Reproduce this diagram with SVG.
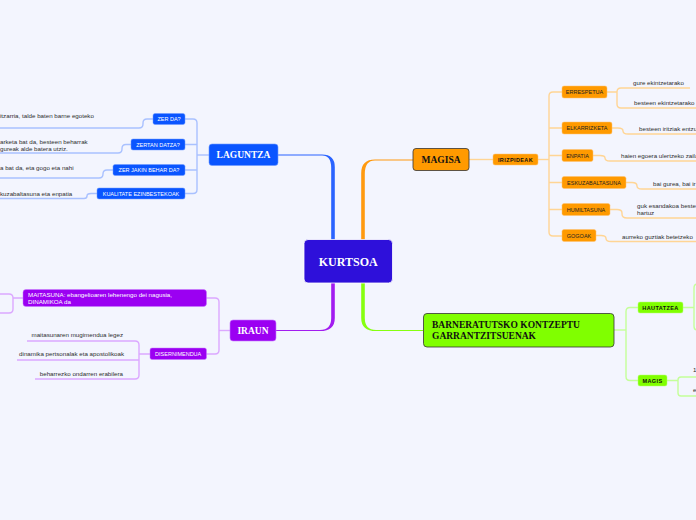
<svg xmlns="http://www.w3.org/2000/svg" width="696" height="520" viewBox="0 0 696 520">
<style>
.leaf{font-family:"Liberation Sans",Arial,sans-serif;font-size:6.2px;fill:#2e2e2e}
.sub{font-family:"Liberation Sans",Arial,sans-serif;font-size:5.5px;text-anchor:middle}
.subw{fill:#fff}
.subd{fill:#222}
.subb{font-weight:bold;letter-spacing:0.4px;fill:#111}
.main{font-family:"Liberation Serif","Times New Roman",serif;font-weight:bold;font-size:9.5px}
.cb{fill:none;stroke:#a9c1ff;stroke-width:1.4}
.co{fill:none;stroke:#ffd595;stroke-width:1.4}
.cp{fill:none;stroke:#dca8ff;stroke-width:1.4}
.cg{fill:none;stroke:#c4ff99;stroke-width:1.4}
</style>
<rect width="696" height="520" fill="#f3f5fe"/>

<g id="connectors">
  <!-- main branches -->
  <path d="M278,154.4 L322,154.4 Q334.8,154.4 334.8,167 L334.8,240 L331.2,240 L331.2,168 Q331.2,155.6 322,155.6 L278,155.6 Z" fill="#2a63ff"/>
  <path d="M413,159.4 L375,159.4 Q361.2,159.4 361.2,173 L361.2,240 L364.8,240 L364.8,174 Q364.8,160.6 375,160.6 L413,160.6 Z" fill="#ff9a10"/>
  <path d="M276,329.9 L320,329.9 Q331.2,329.9 331.2,318 L331.2,283 L334.8,283 L334.8,318 Q334.8,331.1 320,331.1 L276,331.1 Z" fill="#a21cf0"/>
  <path d="M423,329.9 L376,329.9 Q364.8,329.9 364.8,318 L364.8,283 L361.2,283 L361.2,318 Q361.2,331.1 376,331.1 L423,331.1 Z" fill="#86ff10"/>

  <!-- LAGUNTZA -->
  <path class="cb" d="M209,155 L197,155"/>
  <path class="cb" d="M185,119 L193,119 Q197,119 197,123 L197,189.5 Q197,193.5 193,193.5 L185,193.5"/>
  <path class="cb" d="M185,144.5 L197,144.5 M185,170 L197,170"/>
  <path class="cb" d="M153,119 L147,119 Q143,119 143,123 L143,124 Q143,128 139,128 L0,128"/>
  <path class="cb" d="M131,144.5 L126,144.5 Q122,144.5 122,148.5 L122,149 Q122,153 118,153 L0,153"/>
  <path class="cb" d="M113,170 L107,170 Q103,170 103,174 Q103,178 99,178 L0,178"/>
  <path class="cb" d="M97,193.5 L91,193.5 Q87,193.5 87,196 Q87,198.5 84,198.5 L0,198.5"/>

  <!-- MAGISA -->
  <path class="co" d="M469,159.5 L493,159.5"/>
  <path class="co" d="M538,159.5 L549,159.5"/>
  <path class="co" d="M562,92 L553,92 Q549,92 549,96 L549,232 Q549,236 553,236 L562,236"/>
  <path class="co" d="M549,128 L562,128 M549,155.5 L562,155.5 M549,182.5 L562,182.5 M549,209.5 L562,209.5"/>
  <path class="co" d="M607,92 L617,92 M690,88 L621,88 Q617,88 617,92 L617,104 Q617,108 621,108 L696,108"/>
  <path class="co" d="M612,128 L618,128 Q623,128 623,131 Q623,134 628,134 L696,134"/>
  <path class="co" d="M593,155.5 L600,155.5 Q605,155.5 605,158 Q605,161 610,161 L696,161"/>
  <path class="co" d="M626,182.5 L632,182.5 Q637,182.5 637,186 Q637,189 642,189 L696,189"/>
  <path class="co" d="M610,209.5 L617,209.5 Q622,209.5 622,213 L622,214 Q622,218 627,218 L696,218"/>
  <path class="co" d="M596,235.5 L601,235.5 Q606,235.5 606,238.5 Q606,241.5 611,241.5 L696,241.5"/>

  <!-- IRAUN -->
  <path class="cp" d="M230,330.5 L219,330.5"/>
  <path class="cp" d="M206,298 L215,298 Q219,298 219,302 L219,350 Q219,354 215,354 L206,354"/>
  <path class="cp" d="M23,298 L13,298 M0,294 L9,294 Q13,294 13,298 L13,309 Q13,313 9,313 L0,313"/>
  <path class="cp" d="M150,354 L139,354 M27,341 L135,341 Q139,341 139,345 L139,375 Q139,379 135,379 L35,379 M17,360 L139,360"/>

  <!-- BARNERATUTSKO -->
  <path class="cg" d="M614,330 L626,330"/>
  <path class="cg" d="M638,307.5 L630,307.5 Q626,307.5 626,311.5 L626,376.5 Q626,380.5 630,380.5 L638,380.5"/>
  <path class="cg" d="M683,307.5 L694,307.5 M697,284 Q694,284 694,288 L694,326 Q694,330 697,330"/>
  <path class="cg" d="M667,380.5 L678,380.5 M696,377 L681,377 Q678,377 678,380 L678,393 Q678,396 681,396 L696,396"/>
</g>

<g id="kurtsoa">
  <rect x="304" y="239.5" width="88.5" height="43.5" rx="4" fill="#2e10da" stroke="#ffffff" stroke-width="0.8"/>
  <text x="348.2" y="265.5" class="main" fill="#fff" text-anchor="middle" style="font-size:12px">KURTSOA</text>
</g>

<g id="laguntza">
  <rect x="209" y="144" width="69" height="21.5" rx="3" fill="#0a55ff" stroke="#6f9bff" stroke-width="0.6"/>
  <text x="243.5" y="158.3" class="main" fill="#fff" text-anchor="middle">LAGUNTZA</text>
</g>
<g id="zer-da">
  <rect x="153" y="113.5" width="32" height="11" rx="2" fill="#0a55ff" stroke="#6f9bff" stroke-width="0.5"/>
  <text x="169" y="121" class="sub subw">ZER DA?</text>
</g>
<g id="zertan-datza">
  <rect x="131" y="139" width="54" height="11" rx="2" fill="#0a55ff" stroke="#6f9bff" stroke-width="0.5"/>
  <text x="158" y="146.5" class="sub subw">ZERTAN DATZA?</text>
</g>
<g id="zer-jakin">
  <rect x="113" y="164.5" width="72" height="11" rx="2" fill="#0a55ff" stroke="#6f9bff" stroke-width="0.5"/>
  <text x="149" y="172" class="sub subw">ZER JAKIN BEHAR DA?</text>
</g>
<g id="kualitate">
  <rect x="97" y="188" width="88" height="11" rx="2" fill="#0a55ff" stroke="#6f9bff" stroke-width="0.5"/>
  <text x="141" y="195.5" class="sub subw">KUALITATE EZINBESTEKOAK</text>
</g>
<g id="laguntza-leaves">
  <text x="0" y="118" class="leaf">itzarria, talde baten barne egoteko</text>
  <text x="0" y="144" class="leaf">arketa bat da, besteen beharrak</text>
  <text x="0" y="150.7" class="leaf">gureak alde batera utziz.</text>
  <text x="0" y="170" class="leaf">a bat da, eta gogo eta nahi</text>
  <text x="0" y="196" class="leaf">kuzabaltasuna eta enpatia</text>
</g>

<g id="magisa">
  <rect x="413" y="148.5" width="56" height="22" rx="3" fill="#ff9a00" stroke="#333" stroke-width="0.8"/>
  <text x="441" y="163" class="main" fill="#111" text-anchor="middle">MAGISA</text>
</g>
<g id="irizpideak">
  <rect x="493" y="154" width="45" height="11" rx="2" fill="#ff9a00" stroke="#ffc070" stroke-width="0.5"/>
  <text x="515.5" y="161.6" class="sub subb">IRIZPIDEAK</text>
</g>
<g id="errespetua">
  <rect x="562" y="86" width="45" height="12" rx="2" fill="#ff9a00" stroke="#ffc070" stroke-width="0.5"/>
  <text x="584.5" y="94" class="sub subd">ERRESPETUA</text>
</g>
<g id="elkarrizketa">
  <rect x="562" y="122" width="50" height="12" rx="2" fill="#ff9a00" stroke="#ffc070" stroke-width="0.5"/>
  <text x="587" y="130" class="sub subd">ELKARRIZKETA</text>
</g>
<g id="enpatia">
  <rect x="562" y="149.5" width="31" height="12" rx="2" fill="#ff9a00" stroke="#ffc070" stroke-width="0.5"/>
  <text x="577.5" y="157.5" class="sub subd">ENPATIA</text>
</g>
<g id="eskuzabaltasuna">
  <rect x="562" y="176.5" width="64" height="12" rx="2" fill="#ff9a00" stroke="#ffc070" stroke-width="0.5"/>
  <text x="594" y="184.5" class="sub subd">ESKUZABALTASUNA</text>
</g>
<g id="humiltasuna">
  <rect x="562" y="203.5" width="48" height="12" rx="2" fill="#ff9a00" stroke="#ffc070" stroke-width="0.5"/>
  <text x="586" y="211.5" class="sub subd">HUMILTASUNA</text>
</g>
<g id="gogoak">
  <rect x="562" y="229.5" width="34" height="12" rx="2" fill="#ff9a00" stroke="#ffc070" stroke-width="0.5"/>
  <text x="579" y="237.5" class="sub subd">GOGOAK</text>
</g>
<g id="magisa-leaves">
  <text x="633" y="85" class="leaf">gure ekintzetarako</text>
  <text x="634" y="104.5" class="leaf">besteen ekintzetarako</text>
  <text x="639" y="131" class="leaf">besteen iritziak entzu</text>
  <text x="621" y="158" class="leaf">haien egoera ulertzeko zaila</text>
  <text x="653" y="186" class="leaf">bai gurea, bai ir</text>
  <text x="637" y="208" class="leaf">guk esandakoa beste</text>
  <text x="637" y="215" class="leaf">hartuz</text>
  <text x="622" y="238.5" class="leaf">aurreko guztiak betetzeko</text>
</g>

<g id="iraun">
  <rect x="230" y="320" width="46" height="21" rx="3" fill="#9b00f2" stroke="#c77bff" stroke-width="0.6"/>
  <text x="253" y="334" class="main" fill="#fff" text-anchor="middle">IRAUN</text>
</g>
<g id="maitasuna">
  <rect x="23" y="289.5" width="183.5" height="17" rx="3" fill="#9b00f2" stroke="#c77bff" stroke-width="0.5"/>
  <text x="28" y="297" class="leaf" style="fill:#fff">MAITASUNA:  ebangelioaren lehenengo dei nagusia,</text>
  <text x="28" y="304.2" class="leaf" style="fill:#fff">DINAMIKOA da</text>
</g>
<g id="disernimendua">
  <rect x="150" y="348" width="56.5" height="11.5" rx="2" fill="#9b00f2" stroke="#c77bff" stroke-width="0.5"/>
  <text x="178.2" y="355.8" class="sub subw">DISERNIMENDUA</text>
</g>
<g id="iraun-leaves">
  <text x="123" y="336.5" class="leaf" text-anchor="end">maitasunaren mugimendua legez</text>
  <text x="124" y="355.8" class="leaf" text-anchor="end">dinamika pertsonalak eta apostolikoak</text>
  <text x="123" y="376" class="leaf" text-anchor="end">beharrezko ondarren erabilera</text>
</g>

<g id="barneratutsko">
  <rect x="423.5" y="313.5" width="190.5" height="33.5" rx="3.5" fill="#80ff00" stroke="#333" stroke-width="0.8"/>
  <text x="432" y="327.5" class="main" fill="#111">BARNERATUTSKO KONTZEPTU</text>
  <text x="432" y="338.5" class="main" fill="#111">GARRANTZITSUENAK</text>
</g>
<g id="hautatzea">
  <rect x="638" y="302" width="45" height="11" rx="2" fill="#80ff00" stroke="#b5ff70" stroke-width="0.5"/>
  <text x="660.5" y="309.6" class="sub subb">HAUTATZEA</text>
</g>
<g id="magis">
  <rect x="638" y="375" width="29" height="11" rx="2" fill="#80ff00" stroke="#b5ff70" stroke-width="0.5"/>
  <text x="652.5" y="382.6" class="sub subb">MAGIS</text>
</g>
<g id="magis-leaves">
  <text x="693" y="372" class="leaf">1</text>
  <text x="693" y="392" class="leaf">e</text>
</g>
</svg>
